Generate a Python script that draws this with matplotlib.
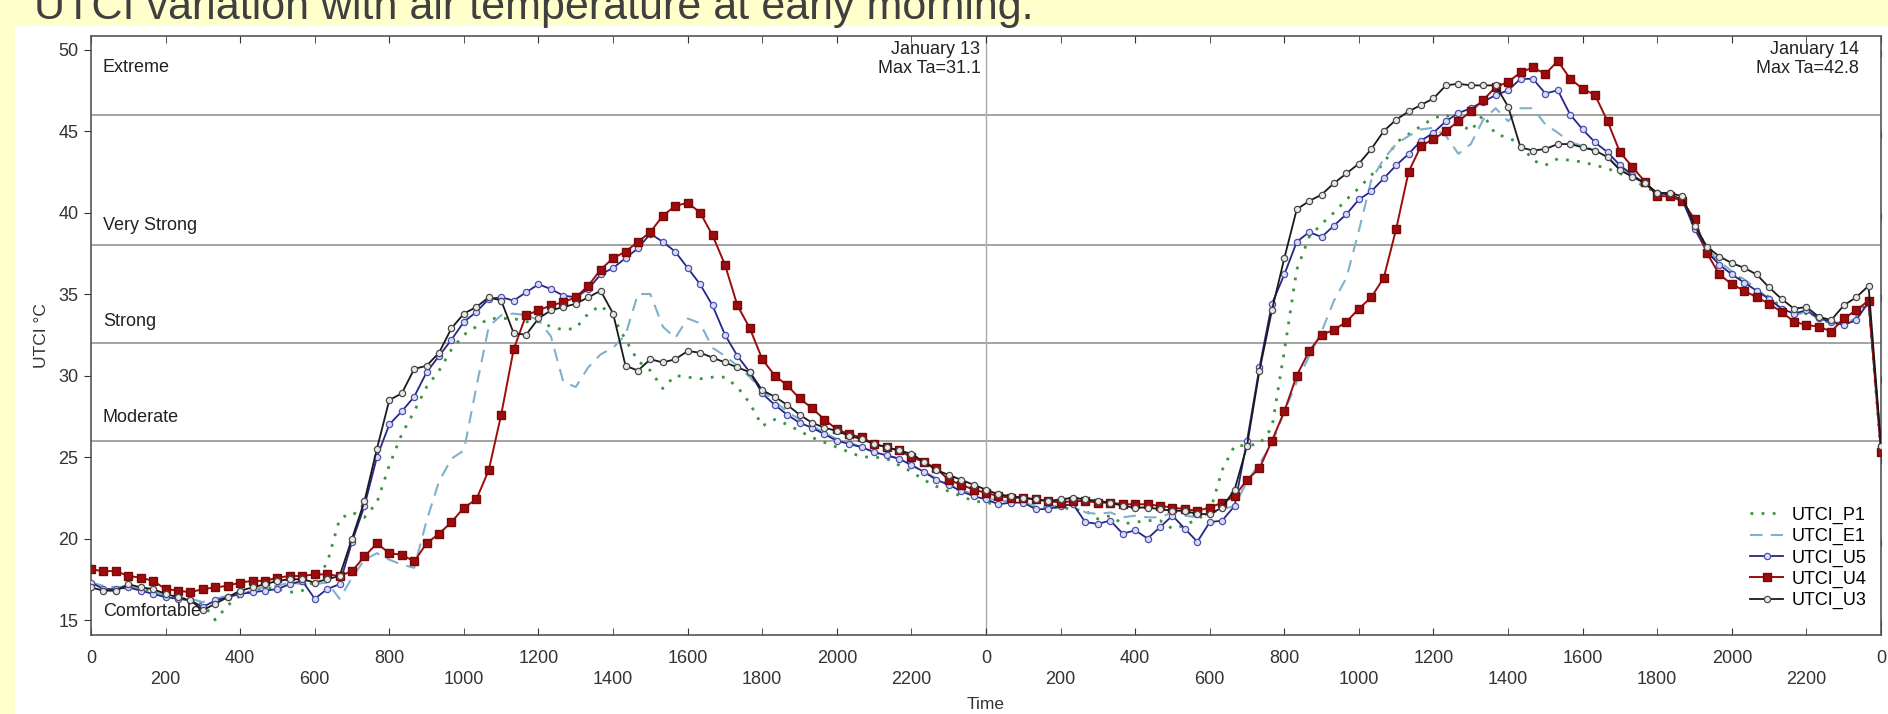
import numpy as np
import matplotlib
matplotlib.use("Agg")
import matplotlib.pyplot as plt
from matplotlib.patches import Rectangle
from matplotlib.ticker import MultipleLocator, FuncFormatter

plt.rcParams['font.family'] = ['Liberation Sans', 'DejaVu Sans']

title = "UTCI variation with air temperature at early morning."
series_names = ["UTCI_P1", "UTCI_E1", "UTCI_U5", "UTCI_U4", "UTCI_U3"]

# 20-minute samples over two days (hours 0..48)
time_h = np.arange(145) / 3.0

UTCI_P1 = [
    17.2, 17.0, 16.9,  # 0
    17.0, 16.9, 16.8,  # 1
    16.5, 16.4, 16.3,  # 2
    16.0, 15.0, 15.9,  # 3
    16.5, 16.8, 17.0,  # 4
    16.9, 16.7, 16.8,  # 5
    17.4, 18.5, 21.2,  # 6
    21.6, 21.3, 22.2,  # 7
    24.5, 26.4, 27.8,  # 8
    29.3, 30.3, 31.6,  # 9
    32.5, 33.0, 33.5,  # 10
    33.5, 33.5, 33.3,  # 11
    33.3, 33.0, 32.8,  # 12
    32.9, 33.8, 34.3,  # 13
    33.6, 32.2, 30.9,  # 14
    30.3, 29.2, 30.0,  # 15
    29.9, 29.8, 29.9,  # 16
    29.9, 29.3, 28.3,  # 17
    26.9, 27.3, 27.0,  # 18
    26.6, 26.2, 25.9,  # 19
    25.6, 25.3, 25.0,  # 20
    25.0, 24.9, 24.5,  # 21
    24.1, 23.6, 23.2,  # 22
    22.9, 22.6, 22.3,  # 23
    22.2, 22.1, 22.1,  # 24
    22.1, 21.9, 21.9,  # 25
    21.9, 21.8, 21.7,  # 26
    21.2, 21.4, 20.9,  # 27
    21.0, 21.1, 21.1,  # 28
    20.6, 20.8, 21.2,  # 29
    21.6, 24.2, 25.7,  # 30
    25.7, 25.8, 26.8,  # 31
    31.5, 36.5, 38.5,  # 32
    39.3, 40.0, 40.8,  # 33
    41.5, 42.3, 43.0,  # 34
    44.3, 44.8, 45.3,  # 35
    45.8, 46.0, 45.5,  # 36
    45.0, 46.0, 44.8,  # 37
    44.6, 44.2, 43.2,  # 38
    42.9, 43.3, 43.2,  # 39
    43.1, 42.9, 42.7,  # 40
    42.4, 42.0, 41.6,  # 41
    41.2, 41.0, 40.8,  # 42
    39.4, 37.7, 36.8,  # 43
    36.3, 35.8, 35.3,  # 44
    34.8, 34.2, 33.7,  # 45
    33.8, 33.5, 33.2,  # 46
    33.1, 33.6, 34.6,  # 47
    25.2,              # 48
]

UTCI_E1 = [
    17.3, 17.1, 17.0,  # 0
    17.1, 16.9, 16.7,  # 1
    16.5, 16.4, 16.3,  # 2
    16.1, 16.3, 16.5,  # 3
    16.7, 16.9, 17.0,  # 4
    17.1, 17.3, 17.2,  # 5
    17.2, 17.3, 16.3,  # 6
    17.6, 18.7, 19.1,  # 7
    18.7, 18.4, 18.2,  # 8
    21.1, 23.5, 24.9,  # 9
    25.4, 29.3, 33.0,  # 10
    33.7, 33.8, 33.7,  # 11
    33.4, 32.4, 29.6,  # 12
    29.3, 30.5, 31.3,  # 13
    31.7, 32.5, 35.0,  # 14
    35.0, 33.0, 32.3,  # 15
    33.5, 33.2, 31.7,  # 16
    31.2, 30.6, 29.9,  # 17
    29.1, 28.4, 27.8,  # 18
    27.3, 26.9, 26.5,  # 19
    26.1, 25.9, 25.6,  # 20
    25.3, 25.1, 24.9,  # 21
    24.5, 24.1, 23.7,  # 22
    23.3, 23.0, 22.7,  # 23
    22.5, 22.3, 22.3,  # 24
    22.2, 22.0, 22.0,  # 25
    22.0, 22.1, 21.6,  # 26
    21.5, 21.6, 21.3,  # 27
    21.4, 21.3, 21.3,  # 28
    21.6, 21.4, 21.3,  # 29
    21.5, 21.8, 22.0,  # 30
    23.5, 24.6, 25.8,  # 31
    27.8, 29.6, 31.2,  # 32
    32.7, 34.6, 36.0,  # 33
    38.9, 42.0, 43.3,  # 34
    44.2, 44.7, 45.1,  # 35
    45.2, 44.7, 43.6,  # 36
    44.2, 45.7, 46.4,  # 37
    45.6, 46.4, 46.4,  # 38
    45.4, 44.9, 44.3,  # 39
    44.1, 43.8, 43.4,  # 40
    42.7, 42.2, 41.8,  # 41
    41.2, 41.1, 40.8,  # 42
    39.2, 37.8, 37.0,  # 43
    36.4, 35.9, 35.3,  # 44
    34.7, 34.1, 33.7,  # 45
    33.9, 33.5, 33.3,  # 46
    33.2, 33.5, 34.4,  # 47
    25.6,              # 48
]

UTCI_U5 = [
    17.3, 16.9, 16.9,  # 0
    17.0, 16.8, 16.6,  # 1
    16.4, 16.3, 16.2,  # 2
    15.8, 16.2, 16.4,  # 3
    16.6, 16.7, 16.8,  # 4
    16.9, 17.2, 17.4,  # 5
    16.3, 16.9, 17.2,  # 6
    19.8, 22.0, 25.0,  # 7
    27.0, 27.8, 28.7,  # 8
    30.2, 31.2, 32.2,  # 9
    33.3, 33.9, 34.7,  # 10
    34.8, 34.6, 35.1,  # 11
    35.6, 35.3, 34.9,  # 12
    34.8, 35.3, 36.2,  # 13
    36.6, 37.2, 37.8,  # 14
    38.7, 38.2, 37.6,  # 15
    36.6, 35.6, 34.3,  # 16
    32.5, 31.2, 30.2,  # 17
    28.9, 28.2, 27.6,  # 18
    27.1, 26.8, 26.4,  # 19
    26.0, 25.8, 25.6,  # 20
    25.3, 25.1, 24.9,  # 21
    24.5, 24.1, 23.6,  # 22
    23.3, 22.9, 22.6,  # 23
    22.4, 22.1, 22.2,  # 24
    22.2, 21.8, 21.8,  # 25
    22.0, 22.1, 21.0,  # 26
    20.9, 21.1, 20.3,  # 27
    20.5, 20.0, 20.7,  # 28
    21.4, 20.6, 19.8,  # 29
    21.0, 21.1, 22.0,  # 30
    26.0, 30.5, 34.4,  # 31
    36.2, 38.2, 38.8,  # 32
    38.5, 39.2, 39.9,  # 33
    40.8, 41.3, 42.1,  # 34
    42.9, 43.6, 44.4,  # 35
    44.9, 45.6, 46.1,  # 36
    46.4, 46.8, 47.2,  # 37
    47.5, 48.2, 48.2,  # 38
    47.3, 47.5, 46.0,  # 39
    45.1, 44.3, 43.7,  # 40
    42.9, 42.3, 41.8,  # 41
    41.2, 41.1, 40.8,  # 42
    39.0, 37.6, 36.8,  # 43
    36.2, 35.7, 35.2,  # 44
    34.7, 34.1, 33.8,  # 45
    34.0, 33.5, 33.3,  # 46
    33.1, 33.4, 34.5,  # 47
    25.7,              # 48
]

UTCI_U4 = [
    18.1, 18.0, 18.0,  # 0
    17.7, 17.6, 17.4,  # 1
    16.9, 16.8, 16.7,  # 2
    16.9, 17.0, 17.1,  # 3
    17.3, 17.4, 17.4,  # 4
    17.6, 17.7, 17.7,  # 5
    17.8, 17.8, 17.7,  # 6
    18.0, 18.9, 19.7,  # 7
    19.1, 19.0, 18.6,  # 8
    19.7, 20.3, 21.0,  # 9
    21.9, 22.4, 24.2,  # 10
    27.6, 31.6, 33.7,  # 11
    34.0, 34.3, 34.5,  # 12
    34.8, 35.5, 36.5,  # 13
    37.2, 37.6, 38.2,  # 14
    38.8, 39.8, 40.4,  # 15
    40.6, 40.0, 38.6,  # 16
    36.8, 34.3, 32.9,  # 17
    31.0, 30.0, 29.4,  # 18
    28.6, 28.0, 27.3,  # 19
    26.7, 26.4, 26.2,  # 20
    25.8, 25.6, 25.4,  # 21
    25.0, 24.7, 24.3,  # 22
    23.6, 23.3, 23.0,  # 23
    22.8, 22.6, 22.5,  # 24
    22.5, 22.4, 22.3,  # 25
    22.2, 22.3, 22.3,  # 26
    22.2, 22.2, 22.1,  # 27
    22.1, 22.1, 22.0,  # 28
    21.9, 21.8, 21.7,  # 29
    21.9, 22.2, 22.6,  # 30
    23.6, 24.3, 26.0,  # 31
    27.8, 30.0, 31.5,  # 32
    32.5, 32.8, 33.3,  # 33
    34.1, 34.8, 36.0,  # 34
    39.0, 42.5, 44.1,  # 35
    44.5, 45.0, 45.6,  # 36
    46.2, 46.9, 47.7,  # 37
    48.0, 48.6, 48.9,  # 38
    48.5, 49.3, 48.2,  # 39
    47.6, 47.2, 45.6,  # 40
    43.7, 42.8, 41.9,  # 41
    41.0, 41.0, 40.7,  # 42
    39.6, 37.5, 36.2,  # 43
    35.6, 35.2, 34.8,  # 44
    34.4, 33.9, 33.3,  # 45
    33.1, 33.0, 32.7,  # 46
    33.5, 34.0, 34.6,  # 47
    25.3,              # 48
]

UTCI_U3 = [
    17.0, 16.8, 16.8,  # 0
    17.2, 17.0, 16.9,  # 1
    16.6, 16.4, 16.2,  # 2
    15.6, 16.0, 16.4,  # 3
    16.8, 17.0, 17.2,  # 4
    17.4, 17.5, 17.5,  # 5
    17.3, 17.5, 17.7,  # 6
    20.0, 22.3, 25.5,  # 7
    28.5, 28.9, 30.4,  # 8
    30.6, 31.4, 32.9,  # 9
    33.8, 34.2, 34.8,  # 10
    34.6, 32.6, 32.5,  # 11
    33.5, 34.0, 34.2,  # 12
    34.4, 34.8, 35.2,  # 13
    33.8, 30.6, 30.3,  # 14
    31.0, 30.8, 31.0,  # 15
    31.5, 31.4, 31.1,  # 16
    30.8, 30.5, 30.2,  # 17
    29.1, 28.7, 28.2,  # 18
    27.6, 27.1, 26.8,  # 19
    26.6, 26.3, 26.1,  # 20
    25.8, 25.6, 25.4,  # 21
    25.2, 24.7, 24.2,  # 22
    23.9, 23.6, 23.3,  # 23
    23.0, 22.7, 22.6,  # 24
    22.5, 22.4, 22.3,  # 25
    22.4, 22.5, 22.4,  # 26
    22.3, 22.2, 22.0,  # 27
    21.9, 21.9, 21.8,  # 28
    21.7, 21.7, 21.5,  # 29
    21.5, 21.9, 23.0,  # 30
    25.7, 30.3, 34.0,  # 31
    37.2, 40.2, 40.7,  # 32
    41.1, 41.8, 42.4,  # 33
    43.0, 43.9, 45.0,  # 34
    45.7, 46.2, 46.6,  # 35
    47.0, 47.8, 47.9,  # 36
    47.8, 47.8, 47.8,  # 37
    46.5, 44.0, 43.8,  # 38
    43.9, 44.2, 44.2,  # 39
    44.0, 43.8, 43.4,  # 40
    42.6, 42.2, 41.8,  # 41
    41.2, 41.2, 41.0,  # 42
    39.2, 37.9, 37.3,  # 43
    36.9, 36.6, 36.2,  # 44
    35.4, 34.7, 34.1,  # 45
    34.2, 33.6, 33.4,  # 46
    34.3, 34.8, 35.5,  # 47
    25.7,              # 48
]

zone_names = ["Extreme", "Very Strong", "Strong", "Moderate", "Comfortable"]
zone_label_y = [48.9, 39.2, 33.3, 27.4, 15.5]
zone_lines = [46, 38, 32, 26]
day_notes = ["January 13\nMax Ta=31.1", "January 14\nMax Ta=42.8"]
day_note_x = [23.85, 47.4]
midnight = 24

W, H = 1888, 714
fig = plt.figure(figsize=(W / 100, H / 100), dpi=100)
fig.patch.set_facecolor('#FFFFCC')
fig.patches.append(Rectangle((15 / W, 0), 1 - 15 / W, 1 - 26 / H, transform=fig.transFigure,
                             facecolor='white', edgecolor='none', zorder=-10))
fig.text(34 / W, 1 - 19 / H, title, fontsize=31, color='#3f3f3f', ha='left', va='baseline',
         zorder=5)

ax = fig.add_axes([91 / W, (H - 635) / H, 1790 / W, 599 / H])
ax.set_zorder(2)
ax.set_facecolor('white')
ax.set_xlim(0, 48)
ax.set_ylim(14.08, 50.83)

for yv in zone_lines:
    ax.axhline(yv, color='#8a8a8a', lw=1.1, zorder=1)
ax.axvline(midnight, color='#aaaaaa', lw=1.0, zorder=1)

for name, yv in zip(zone_names, zone_label_y):
    ax.text(0.32, yv, name, fontsize=13, color='#222222', ha='left', va='center', zorder=6)
for note, xv in zip(day_notes, day_note_x):
    ax.text(xv, 50.55, note, fontsize=13, color='#222222', ha='right', va='top', linespacing=1.15)

styles = {
    "UTCI_P1": dict(color='#3c943c', lw=2.0, ls=(0, (1, 3))),
    "UTCI_E1": dict(color='#7fb0cc', lw=1.5, ls=(0, (6, 4))),
    "UTCI_U5": dict(color='#26268a', lw=1.3, marker='o', ms=4.5, mfc='#d8dcf4', mec='#4a52ad', mew=0.9),
    "UTCI_U4": dict(color='#9c0c0c', lw=1.4, marker='s', ms=6, mfc='#9c0c0c', mec='#7a0808'),
    "UTCI_U3": dict(color='#1a1a1a', lw=1.3, marker='o', ms=4.5, mfc='#e8e8e8', mec='#4a4a4a', mew=0.9),
}
data = [UTCI_P1, UTCI_E1, UTCI_U5, UTCI_U4, UTCI_U3]
for name, vals in zip(series_names, data):
    ax.plot(time_h, vals, label=name, zorder=3, **styles[name])

ax.set_xticks(np.arange(0, 49, 4))
ax.set_xticks(np.arange(2, 48, 4), minor=True)
fmt = FuncFormatter(lambda v, p: f"{(int(round(v)) % 24) * 100}")
ax.xaxis.set_major_formatter(fmt)
ax.xaxis.set_minor_formatter(fmt)
ax.yaxis.set_major_locator(MultipleLocator(5))

ax.tick_params(axis='x', which='major', direction='in', length=5, pad=11, labelsize=13,
               colors='#333333', top=True)
ax.tick_params(axis='x', which='minor', direction='in', length=5, pad=26, labelsize=13,
               colors='#333333', top=True)
ax.tick_params(axis='y', which='major', direction='out', length=5, pad=4, labelsize=13,
               colors='#333333', right=True)
for t in ax.yaxis.get_major_ticks():
    t.tick2line.set_marker(3)  # inward on right side

for sp in ax.spines.values():
    sp.set_color('#555555')
    sp.set_linewidth(1.2)

ax.set_ylabel("UTCI °C", fontsize=12.5, color='#333333')
ax.yaxis.set_label_coords((49 - 91) / 1790, 0.5)
ax.set_xlabel("Time", fontsize=12.5, color='#333333')
ax.xaxis.set_label_coords(0.5, -(697 - 635) / 599)

leg = ax.legend(loc='lower right', bbox_to_anchor=(0.992, 0.043), frameon=False, fontsize=13,
                handlelength=1.8, handletextpad=0.5, labelspacing=0.23, borderaxespad=0,
                borderpad=0, numpoints=1)

fig.savefig("out.png", dpi=100, facecolor=fig.get_facecolor())
